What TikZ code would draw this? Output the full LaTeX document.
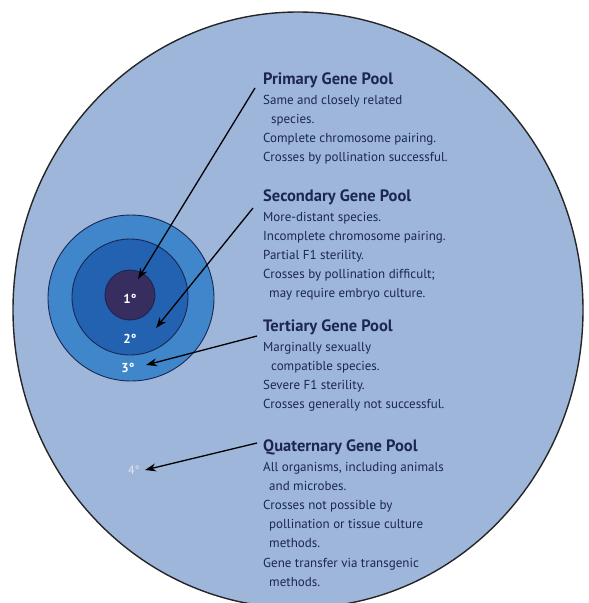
\documentclass[tikz,border=0pt]{standalone}
\usepackage{fontspec}
\setmainfont{PT Sans}
\usetikzlibrary{arrows.meta}
\definecolor{bgblue}{RGB}{159,182,219}
\definecolor{ring3}{RGB}{64,134,203}
\definecolor{ring2}{RGB}{34,98,176}
\definecolor{ring1}{RGB}{55,45,95}
\definecolor{txt}{RGB}{28,38,82}
\definecolor{faint}{RGB}{225,230,240}
\tikzset{
  block/.style={anchor=north west, inner sep=0pt, align=left, text=txt,
    font=\fontsize{13}{19.2}\selectfont},
  pointer/.style={draw=black, line width=1.3pt, -{Stealth[length=11pt,width=8pt]}},
  deg/.style={text=white, font=\fontsize{13}{14}\selectfont\bfseries, inner sep=0pt},
}
\newcommand{\ttlline}[1]{{\fontsize{16.5}{19}\selectfont\bfseries #1}}
\begin{document}
\begin{tikzpicture}[x=1pt,y=-1pt]
\useasboundingbox (0,0) rectangle (589,603);
\fill[white] (0,0) rectangle (589,603);
\begin{scope}
\clip (0,0) rectangle (589,603);
\draw[fill=bgblue, draw=black!85, line width=1.4pt] (298,310) ellipse [x radius=285, y radius=298];
\end{scope}
% concentric pools
\draw[fill=ring3, draw=txt, line width=0.9pt] (131,298) circle [radius=83];
\draw[fill=ring2, draw=txt, line width=0.9pt] (130,297) circle [radius=58];
\draw[fill=ring1, draw=txt, line width=0.9pt] (130,295) circle [radius=25];
\node[deg] (d1) at (130,299) {1°};
\node[deg] (d2) at (130,339) {2°};
\node[deg] (d3) at (128,368) {3°};
\node[deg, text=faint, font=\fontsize{12}{13}\selectfont] (d4) at (134,470) {4°};
% text blocks
\node[block] (prim) at (263,73) {\ttlline{Primary Gene Pool}\\
Same and closely related\\
\hspace*{8pt}species.\\
Complete chromosome pairing.\\
Crosses by pollination successful.};
\node[block] (sec) at (263,190) {\ttlline{Secondary Gene Pool}\\
More-distant species.\\
Incomplete chromosome pairing.\\
Partial F1 sterility.\\
Crosses by pollination difficult;\\
\hspace*{6pt}may require embryo culture.};
\node[block] (ter) at (263,320) {\ttlline{Tertiary Gene Pool}\\
Marginally sexually\\
\hspace*{8pt}compatible species.\\
Severe F1 sterility.\\
Crosses generally not successful.};
\node[block] (qua) at (263,440) {\ttlline{Quaternary Gene Pool}\\
All organisms, including animals\\
\hspace*{6pt}and microbes.\\
Crosses not possible by\\
\hspace*{6pt}pollination or tissue culture\\
\hspace*{6pt}methods.\\
Gene transfer via transgenic\\
\hspace*{6pt}methods.};
% arrow ends
\coordinate (s1) at (255,88);
\coordinate (e1) at (138,279);
\coordinate (s2) at (253,208);
\coordinate (e2) at (156,328);
\coordinate (s3) at (257,336);
\coordinate (e3) at (146,365);
\coordinate (s4) at (257,443);
\coordinate (e4) at (145,470);
\draw[pointer] (s1) -- (e1);
\draw[pointer] (s2) -- (e2);
\draw[pointer] (s3) -- (e3);
\draw[pointer] (s4) -- (e4);
\end{tikzpicture}
\end{document}
